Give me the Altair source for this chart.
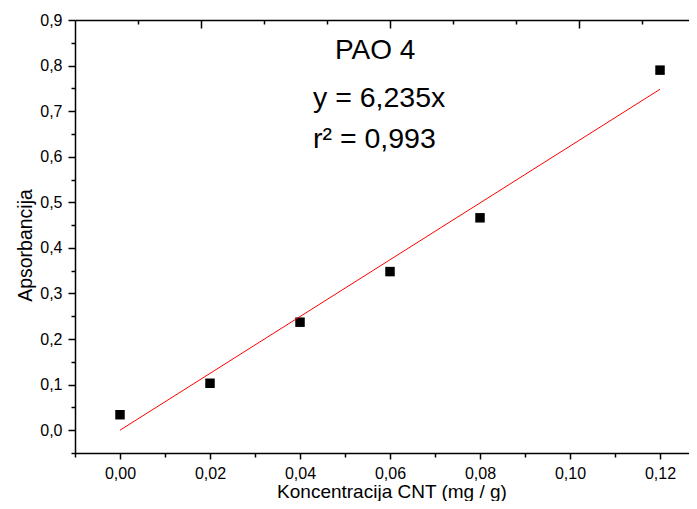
import altair as alt
import pandas as pd

# ---- data ----
conc = [0.00, 0.02, 0.04, 0.06, 0.08, 0.12]
absorb = [0.034, 0.103, 0.237, 0.348, 0.466, 0.790]
fit_conc = [0.00, 0.12]
fit_abs = [0.000, 0.748]

y_ticks = [-0.05, 0.0, 0.05, 0.1, 0.15, 0.2, 0.25, 0.3, 0.35, 0.4, 0.45,
           0.5, 0.55, 0.6, 0.65, 0.7, 0.75, 0.8, 0.85, 0.9]
x_ticks = [-0.01, 0.0, 0.01, 0.02, 0.03, 0.04, 0.05, 0.06, 0.07, 0.08,
           0.09, 0.10, 0.11, 0.12]
top_ticks = [0.004, 0.018, 0.032, 0.046, 0.060, 0.074, 0.088, 0.102, 0.116]

title_text = "PAO 4"
eq_text = "y = 6,235x"
r2_text = "r² = 0,993"
x_title = "Koncentracija CNT (mg / g)"
y_title = "Apsorbancija"

FONT = "Liberation Sans"

pts_df = pd.DataFrame({"conc": conc, "abs": absorb})
fit_df = pd.DataFrame({"fc": fit_conc, "fa": fit_abs})

xscale = alt.Scale(domain=[-0.01, 0.12644], nice=False, zero=False)
yscale = alt.Scale(domain=[-0.05, 0.9], nice=False, zero=False)

y_major = "abs(datum.value*10 - round(datum.value*10)) < 0.001"
x_major = "abs(datum.value*50 - round(datum.value*50)) < 0.001"
t_major = "abs((datum.value - 0.018)/0.042 - round((datum.value - 0.018)/0.042)) < 0.001"

y_axis = alt.Axis(
    orient="left",
    values=y_ticks,
    tickSize={"condition": {"test": y_major, "value": 7}, "value": 4},
    labelExpr=f"{y_major} ? replace(format(datum.value, '.1f'), '.', ',') : ''",
    labelPadding=6, labelOverlap=False, labelFlush=False,
    domainColor="black", domainWidth=1.5, tickColor="black", tickWidth=1.5,
    title=y_title, titleX=-44, titleY=225, titleAlign="center",
    titleBaseline="alphabetic", titleAngle=270, grid=False,
)

x_axis = alt.Axis(
    orient="bottom",
    values=x_ticks,
    tickSize={"condition": {"test": x_major, "value": 6}, "value": 4},
    labelExpr=f"{x_major} ? replace(format(datum.value, '.2f'), '.', ',') : ''",
    labelPadding=6, labelOverlap=False, labelFlush=False,
    domainColor="black", domainWidth=1.5, tickColor="black", tickWidth=1.5,
    title=x_title, titleX=316.5, titleY=44, titleAlign="center",
    titleBaseline="alphabetic", titleFontSize=19, grid=False,
)

top_axis = alt.Axis(
    orient="bottom", offset=-433, values=top_ticks, labels=False, title=None,
    tickSize={"condition": {"test": t_major, "value": 8}, "value": 4},
    domainColor="black", domainWidth=1.5, tickColor="black", tickWidth=1.5,
    grid=False,
)

pts = alt.Chart(pts_df).mark_square(size=90, color="black", opacity=1).encode(
    x=alt.X("conc:Q", scale=xscale, axis=x_axis),
    y=alt.Y("abs:Q", scale=yscale, axis=y_axis),
)

fit = alt.Chart(fit_df).mark_line(color="#ff0000", strokeWidth=1).encode(
    x=alt.X("fc:Q", scale=xscale, axis=top_axis),
    y=alt.Y("fa:Q", scale=yscale, axis=y_axis),
)

def label(txt, px, py, size):
    return alt.Chart(pd.DataFrame({"t": [txt]})).mark_text(
        font=FONT, fontSize=size, color="black", align="left",
        baseline="alphabetic",
    ).encode(text="t:N", x=alt.value(px), y=alt.value(py))

chart = alt.layer(
    pts, fit,
    label(title_text, 260, 39, 28),
    label(eq_text, 238, 87, 28.5),
    label(r2_text, 238, 128, 28.5),
).resolve_axis(x="independent", y="shared").properties(
    width=614, height=433,
    autosize=alt.AutoSizeParams(type="none"),
    padding={"left": 67, "top": 12, "right": 0, "bottom": 48},
).configure_view(stroke=None).configure_axis(
    labelFont=FONT, titleFont=FONT, labelFontSize=16, titleFontSize=19.5,
    labelColor="black", titleColor="black", titleFontWeight="normal",
)

chart.save("out.html", embed_options={"renderer": "svg", "actions": False})
